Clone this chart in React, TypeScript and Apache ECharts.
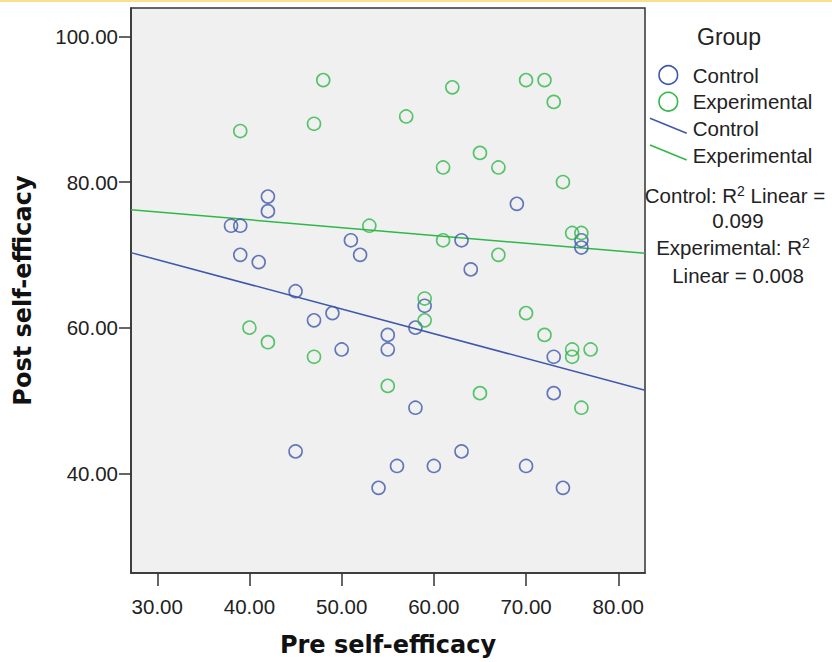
import React, { useEffect, useRef } from "react";
import * as echarts from "echarts";

// Control group: pre / post self-efficacy
const controlPre = [38, 39, 42, 42, 51, 52, 39, 41, 45, 49, 47, 50, 55, 55, 45, 54, 59, 58, 58, 56, 60, 63, 70, 74, 73, 73, 69, 76, 76, 63, 64];
const controlPost = [74, 74, 78, 76, 72, 70, 70, 69, 65, 62, 61, 57, 59, 57, 43, 38, 63, 60, 49, 41, 41, 43, 41, 38, 56, 51, 77, 72, 71, 72, 68];
// Experimental group
const expPre = [48, 47, 39, 53, 62, 57, 70, 72, 73, 65, 61, 67, 74, 75, 76, 61, 67, 40, 42, 47, 55, 59, 59, 65, 70, 72, 75, 75, 77, 76];
const expPost = [94, 88, 87, 74, 93, 89, 94, 94, 91, 84, 82, 82, 80, 73, 73, 72, 70, 60, 58, 56, 52, 64, 61, 51, 62, 59, 57, 56, 57, 49];
// Fit lines (at axis extremes)
const fitX = [27.15, 82.9];
const controlFit = [70.3, 51.4];
const expFit = [76.2, 70.2];
// Axis ticks
const xTicks = [30, 40, 50, 60, 70, 80];
const yTicks = [40, 60, 80, 100];
const legendLabels = ["Control", "Experimental"];
const r2Lines = ["0.099", "0.008"];

const BLUE = "#3E58AC";
const GREEN = "#2EB848";
const TXT = "#222222";
const SANS = "'Liberation Sans', Arial, sans-serif";

export default function App() {
  const ref = useRef<HTMLDivElement>(null);
  useEffect(() => {
    if (!ref.current) return;
    const chart = echarts.init(ref.current, undefined, { renderer: "svg" });
    const zip = (a: number[], b: number[]) => a.map((v, i) => [v, b[i]]);
    const richA = { fontFamily: SANS, fontSize: 20.5, fontWeight: "normal", fill: TXT, color: TXT, lineHeight: 22 };
    const richS = { fontFamily: SANS, fontSize: 14, fontWeight: "normal", fill: TXT, color: TXT, verticalAlign: "top", lineHeight: 14 };
    const option: any = {
      animation: false,
      backgroundColor: "#ffffff",
      grid: {
        left: 131,
        top: 8,
        width: 514,
        height: 565,
        containLabel: false,
        outerBoundsMode: "none",
        show: true,
        backgroundColor: "#F0F0F0",
        borderColor: "#333333",
        borderWidth: 1.5,
      },
      xAxis: {
        type: "value",
        min: 27.15,
        max: 82.9,
        name: "Pre self-efficacy",
        nameLocation: "middle",
        nameGap: 60,
        nameTextStyle: { fontFamily: "'DejaVu Sans', sans-serif", fontWeight: "bold", fontSize: 24, color: "#111" },
        splitLine: { show: false },
        axisLine: { show: true, onZero: false, lineStyle: { color: "#333", width: 1.5 } },
        axisTick: { show: true, customValues: xTicks, length: 13, lineStyle: { color: "#333", width: 1.5 } },
        axisLabel: {
          customValues: xTicks,
          margin: 23,
          fontFamily: SANS,
          fontSize: 20.5,
          color: TXT,
          formatter: (v: number) => v.toFixed(2),
        },
      },
      yAxis: {
        type: "value",
        min: 26.3,
        max: 103.9,
        name: "Post self-efficacy",
        nameLocation: "middle",
        nameGap: 96,
        nameRotate: 90,
        nameTextStyle: { fontFamily: "'DejaVu Sans', sans-serif", fontWeight: "bold", fontSize: 24, color: "#111" },
        splitLine: { show: false },
        axisLine: { show: true, onZero: false, lineStyle: { color: "#333", width: 1.5 } },
        axisTick: { show: true, customValues: yTicks, length: 12, lineStyle: { color: "#333", width: 1.5 } },
        axisLabel: {
          customValues: yTicks,
          margin: 13,
          fontFamily: SANS,
          fontSize: 20.5,
          color: TXT,
          formatter: (v: number) => v.toFixed(2),
        },
      },
      series: [
        {
          name: "Control fit",
          type: "line",
          data: zip(fitX, controlFit),
          showSymbol: false,
          lineStyle: { color: BLUE, width: 1.5 },
          z: 2,
        },
        {
          name: "Experimental fit",
          type: "line",
          data: zip(fitX, expFit),
          showSymbol: false,
          lineStyle: { color: GREEN, width: 1.5 },
          z: 2,
        },
        {
          name: "Control",
          type: "scatter",
          data: zip(controlPre, controlPost),
          symbol: "circle",
          symbolSize: 13,
          itemStyle: { color: "rgba(0,0,0,0)", borderColor: BLUE, borderWidth: 1.6 },
          z: 3,
        },
        {
          name: "Experimental",
          type: "scatter",
          data: zip(expPre, expPost),
          symbol: "circle",
          symbolSize: 13,
          itemStyle: { color: "rgba(0,0,0,0)", borderColor: GREEN, borderWidth: 1.6 },
          z: 3,
        },
      ],
      graphic: [
        { type: "rect", shape: { x: 0, y: 0, width: 832, height: 2 }, style: { fill: "#FAE08A" } },
        {
          type: "text",
          x: 729,
          y: 37,
          style: { text: "Group", font: `23px ${SANS}`, fill: TXT, align: "center", verticalAlign: "middle" },
        },
        { type: "circle", shape: { cx: 668.3, cy: 75, r: 9.3 }, style: { fill: "none", stroke: BLUE, lineWidth: 1.6 } },
        { type: "circle", shape: { cx: 668.3, cy: 101.7, r: 9.3 }, style: { fill: "none", stroke: GREEN, lineWidth: 1.6 } },
        { type: "line", shape: { x1: 650, y1: 118.3, x2: 686.7, y2: 133.3 }, style: { stroke: BLUE, lineWidth: 1.5 } },
        { type: "line", shape: { x1: 650, y1: 145, x2: 686.7, y2: 160 }, style: { stroke: GREEN, lineWidth: 1.5 } },
        ...[75, 101.7, 128.3, 155.7].map((y, i) => ({
          type: "text",
          x: 692.7,
          y,
          style: { text: legendLabels[i % 2], font: `20.5px ${SANS}`, fill: TXT, align: "left", verticalAlign: "middle" },
        })),
        {
          type: "text",
          x: 735,
          y: 195,
          style: {
            text: "{a|Control: R}{s|2}{a| Linear =}",
            fill: TXT,
            align: "center",
            verticalAlign: "middle",
            rich: { a: richA, s: richS },
          },
        },
        {
          type: "text",
          x: 738,
          y: 220,
          style: { text: r2Lines[0], font: `20.5px ${SANS}`, fill: TXT, align: "center", verticalAlign: "middle" },
        },
        {
          type: "text",
          x: 733,
          y: 247,
          style: {
            text: "{a|Experimental: R}{s|2}",
            fill: TXT,
            align: "center",
            verticalAlign: "middle",
            rich: { a: richA, s: richS },
          },
        },
        {
          type: "text",
          x: 738,
          y: 275,
          style: { text: "Linear = " + r2Lines[1], font: `20.5px ${SANS}`, fill: TXT, align: "center", verticalAlign: "middle" },
        },
      ],
    };
    chart.setOption(option);
    return () => chart.dispose();
  }, []);
  return (
    <div
      ref={ref}
      style={{ position: "fixed", left: 0, top: 0, width: 832, height: 662, background: "#fff" }}
    />
  );
}
